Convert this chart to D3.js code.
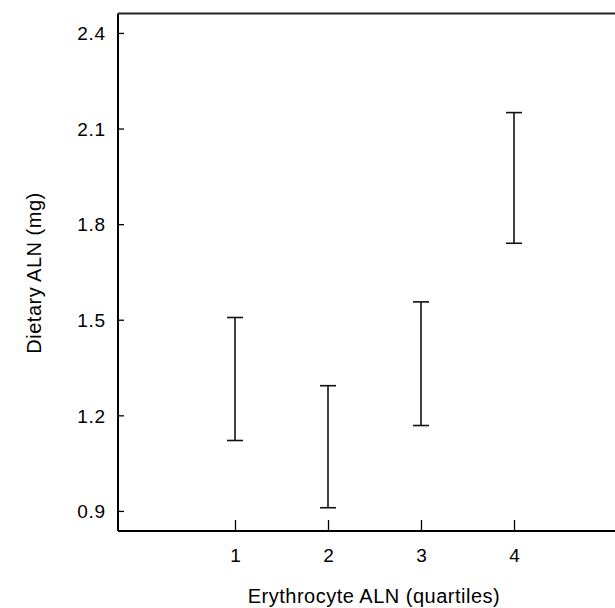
<!DOCTYPE html>
<html>
<head>
<meta charset="utf-8">
<script src="https://cdn.jsdelivr.net/npm/d3@7"></script>
<style>
  html, body { margin: 0; padding: 0; background: #fff; }
  svg { display: block; font-family: "Liberation Sans", Arial, Helvetica, sans-serif; }
</style>
</head>
<body>
<svg id="chart" width="615" height="608"></svg>
<script>
const quartiles = [1, 2, 3, 4];
const lowerValues = [1.121, 0.910, 1.168, 1.740];
const upperValues = [1.507, 1.293, 1.556, 2.150];
const yTickValues = [0.9, 1.2, 1.5, 1.8, 2.1, 2.4];
const xTickValues = [1, 2, 3, 4];
const xTitle = "Erythrocyte ALN (quartiles)";
const yTitle = "Dietary ALN (mg)";

const svg = d3.select("#chart");
const plotLeft = 118, plotRight = 615, plotTop = 13.5, plotBottom = 531;

const x = d3.scaleLinear().domain([-0.258, 5.086]).range([plotLeft, plotRight]);
const y = d3.scaleLinear().domain([0.837, 2.461]).range([plotBottom, plotTop]);

// frame lines: left, bottom, top
svg.append("line").attr("x1", plotLeft).attr("x2", plotLeft).attr("y1", plotTop).attr("y2", plotBottom)
  .attr("stroke", "#000").attr("stroke-width", 2);
svg.append("line").attr("x1", plotLeft).attr("x2", plotRight).attr("y1", plotBottom).attr("y2", plotBottom)
  .attr("stroke", "#000").attr("stroke-width", 2);
svg.append("line").attr("x1", plotLeft).attr("x2", plotRight).attr("y1", plotTop).attr("y2", plotTop)
  .attr("stroke", "#222").attr("stroke-width", 2);

// y axis
const yAxis = d3.axisRight(y).tickValues(yTickValues).tickSize(6).tickFormat(d3.format(".1f"));
const gy = svg.append("g").attr("transform", `translate(${plotLeft},0)`).call(yAxis);
gy.select(".domain").remove();
gy.attr("font-family", null).attr("font-size", null);
gy.selectAll(".tick line").attr("stroke", "#000").attr("stroke-width", 1.3);
gy.selectAll(".tick text").attr("x", -12).attr("text-anchor", "end")
  .style("font-size", "19px").style("letter-spacing", "0.8px")
  .attr("fill", "#000").attr("dy", "0.36em");

// x axis
const xAxis = d3.axisTop(x).tickValues(xTickValues).tickSize(11).tickFormat(d3.format("d"));
const gx = svg.append("g").attr("transform", `translate(0,${plotBottom})`).call(xAxis);
gx.select(".domain").remove();
gx.attr("font-family", null).attr("font-size", null);
gx.selectAll(".tick line").attr("stroke", "#000").attr("stroke-width", 1.3);
gx.selectAll(".tick text").attr("y", 31).attr("dy", 0)
  .style("font-size", "19px").attr("fill", "#000").attr("text-anchor", "middle");

// error bars
const data = quartiles.map((q, i) => ({ q, lo: lowerValues[i], hi: upperValues[i] }));
const bars = svg.append("g").selectAll("g").data(data).join("g");
bars.append("line")
  .attr("x1", d => x(d.q)).attr("x2", d => x(d.q))
  .attr("y1", d => y(d.lo)).attr("y2", d => y(d.hi))
  .attr("stroke", "#111").attr("stroke-width", 1.6);
bars.append("line")
  .attr("x1", d => x(d.q) - 8).attr("x2", d => x(d.q) + 8)
  .attr("y1", d => y(d.hi)).attr("y2", d => y(d.hi))
  .attr("stroke", "#111").attr("stroke-width", 1.6);
bars.append("line")
  .attr("x1", d => x(d.q) - 8).attr("x2", d => x(d.q) + 8)
  .attr("y1", d => y(d.lo)).attr("y2", d => y(d.lo))
  .attr("stroke", "#111").attr("stroke-width", 1.6);

// titles
svg.append("text").attr("x", 374).attr("y", 603).attr("text-anchor", "middle")
  .style("font-size", "20px").style("letter-spacing", "0.5px")
  .attr("fill", "#000").text(xTitle);
svg.append("text").attr("transform", "translate(41,273) rotate(-90)").attr("text-anchor", "middle")
  .style("font-size", "20px").style("letter-spacing", "0.5px")
  .attr("fill", "#000").text(yTitle);
</script>
</body>
</html>
